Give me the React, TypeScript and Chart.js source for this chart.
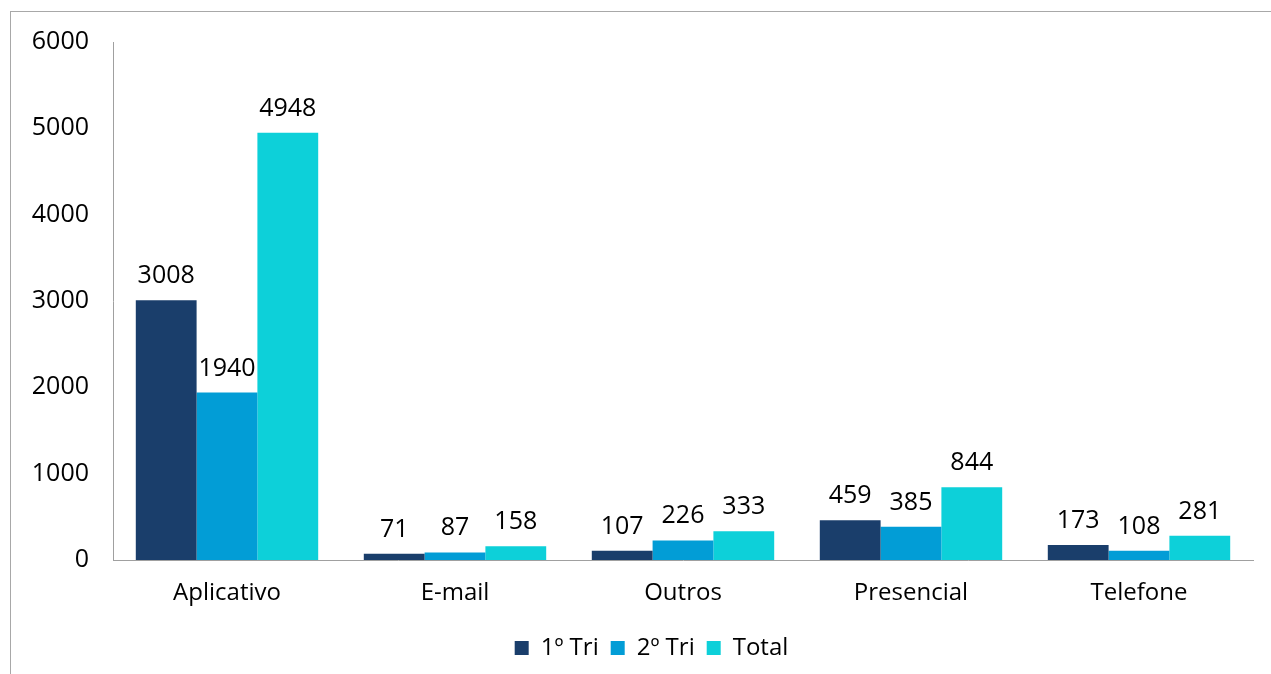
import React, { useEffect, useRef } from "react";
import { Chart, registerables } from "chart.js";

Chart.register(...registerables);

const categories = ["Aplicativo", "E-mail", "Outros", "Presencial", "Telefone"];
const tri1 = [3008, 71, 107, 459, 173];
const tri2 = [1940, 87, 226, 385, 108];
const total = [4948, 158, 333, 844, 281];
const seriesNames = ["1º Tri", "2º Tri", "Total"];
const seriesColors = ["#1a3e6b", "#029dd6", "#0dd0d9"];
const yTicks = [0, 1000, 2000, 3000, 4000, 5000, 6000];

const FONT = "'Open Sans', 'Liberation Sans', sans-serif";

const valueLabels = {
  id: "valueLabels",
  afterDatasetsDraw(chart: any) {
    const ctx = chart.ctx;
    ctx.save();
    ctx.font = `25px ${FONT}`;
    ctx.fillStyle = "#000";
    ctx.textAlign = "center";
    ctx.textBaseline = "alphabetic";
    chart.data.datasets.forEach((ds: any, i: number) => {
      const meta = chart.getDatasetMeta(i);
      meta.data.forEach((el: any, j: number) => {
        ctx.fillText(String(ds.data[j]), el.x, el.y - 17);
      });
    });
    ctx.restore();
  },
};

const shiftLegend = {
  id: "shiftLegend",
  afterLayout(chart: any) {
    const lg = chart.legend;
    if (lg) {
      lg.left += 25;
      lg.right += 25;
    }
  },
};

export default function App() {
  const ref = useRef<HTMLCanvasElement>(null);
  useEffect(() => {
    if (!ref.current) return;
    const chart = new Chart(ref.current, {
      type: "bar",
      data: {
        labels: categories,
        datasets: [tri1, tri2, total].map((d, i) => ({
          label: seriesNames[i],
          data: d,
          backgroundColor: seriesColors[i],
          borderWidth: 0,
          categoryPercentage: 0.8,
          barPercentage: 1.0,
        })),
      },
      options: {
        animation: false,
        responsive: false,
        maintainAspectRatio: false,
        layout: { padding: { top: 42, right: 18, bottom: 4, left: 0 } },
        plugins: {
          tooltip: { enabled: false },
          legend: {
            position: "bottom",
            labels: {
              boxWidth: 14,
              boxHeight: 14,
              padding: 12,
              color: "#000",
              font: { size: 24, family: FONT },
            },
          },
        },
        scales: {
          x: {
            grid: { display: false, drawTicks: false },
            border: { display: true, color: "#a0a0a0", width: 1 },
            ticks: { color: "#000", font: { size: 24, family: FONT }, padding: 19 },
            afterFit: (s: any) => {
              s.height = 64;
            },
          },
          y: {
            min: 0,
            max: 6000,
            grid: { display: false, drawTicks: false },
            border: { display: true, color: "#a0a0a0", width: 1 },
            afterBuildTicks: (s: any) => {
              s.ticks = yTicks.map((v) => ({ value: v }));
            },
            ticks: {
              color: "#000",
              font: { size: 25, family: FONT },
              padding: 24,
              callback: (v: any) => String(v),
            },
            afterFit: (s: any) => {
              s.width = 113;
            },
          },
        },
      },
      plugins: [valueLabels, shiftLegend],
    });
    return () => chart.destroy();
  }, []);
  return (
    <div style={{ position: "absolute", left: 0, top: 0, width: 1271, height: 674, overflow: "hidden", background: "#fff" }}>
      <div
        style={{
          position: "absolute",
          left: 10,
          top: 11,
          width: 1300,
          height: 700,
          borderLeft: "1px solid #a8a8a8",
          borderTop: "1px solid #a8a8a8",
        }}
      />
      <canvas ref={ref} width={1271} height={674} style={{ position: "absolute", left: 0, top: 0, width: 1271, height: 674 }} />
    </div>
  );
}
